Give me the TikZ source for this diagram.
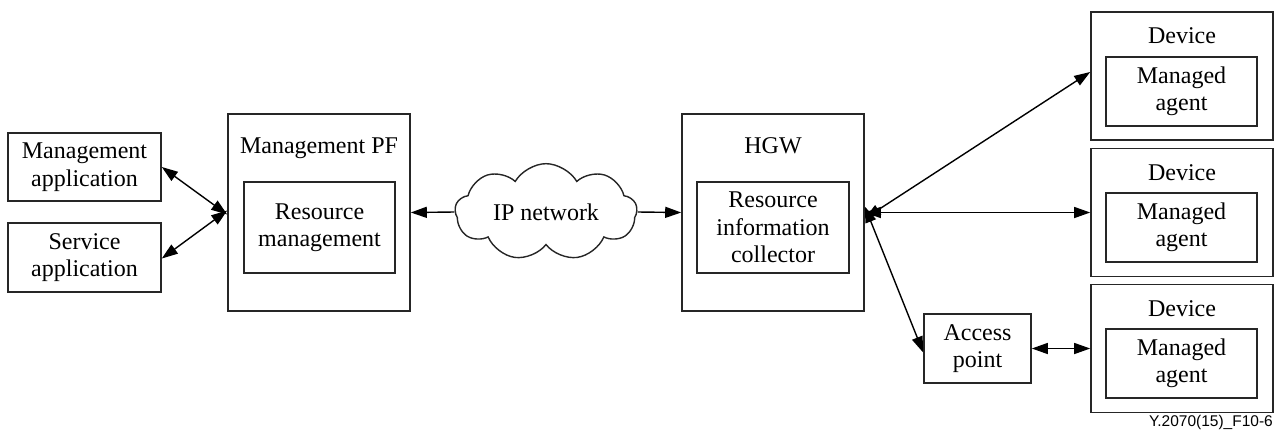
\documentclass[tikz,border=0pt]{standalone}
\usepackage{fontspec}
\setmainfont{Liberation Serif}
\newfontfamily\capfont{Liberation Sans}
\usetikzlibrary{arrows.meta,shapes.symbols}
\tikzset{
  box/.style={draw=black!85, line width=1.6pt, rectangle, inner sep=0pt, align=center,
    font=\fontsize{24}{27.5}\selectfont},
  ttl/.style={inner sep=0pt, font=\fontsize{24}{27.5}\selectfont, anchor=base},
  conn/.style={line width=1.4pt, {Triangle[length=16pt,width=11pt]}-{Triangle[length=16pt,width=11pt]}},
  oneway/.style={line width=1.4pt, -{Triangle[length=16pt,width=11pt]}},
}
\begin{document}
\begin{tikzpicture}[x=1pt,y=-1pt]
\useasboundingbox (0,0) rectangle (1282,432);
% left apps
\node[box, minimum width=153pt, minimum height=68pt] (mapp) at (84.5,167) {Management\\application};
\node[box, minimum width=153pt, minimum height=69pt] (sapp) at (84.5,257.5) {Service\\application};
% Management PF
\node[box, minimum width=182pt, minimum height=197pt] (mpf) at (319,212.5) {};
\node[ttl] (mpft) at (319,153) {Management PF};
\node[box, minimum width=151pt, minimum height=91pt] (rm) at (319.5,227.5) {Resource\\management};
% cloud
\node[cloud, draw=black!85, line width=1.4pt, cloud puffs=9, cloud puff arc=120, aspect=2.1,
  minimum width=182pt, minimum height=90pt, inner sep=0pt, font=\fontsize{24}{27.5}\selectfont] (ip) at (546,212) {IP network};
% HGW
\node[box, minimum width=182pt, minimum height=197pt] (hgw) at (773,212.5) {};
\node[ttl] (hgwt) at (773,153) {HGW};
\node[box, minimum width=152pt, minimum height=91pt] (ric) at (773,227.5) {Resource\\information\\collector};
% devices
\foreach \i/\yc/\yt/\yi in {1/76/43/91.5, 2/212.5/180/227.5, 3/348.5/316/363.5}{
  \node[box, minimum width=182pt, minimum height=128pt] (dev\i) at (1182,\yc) {};
  \node[ttl] (devt\i) at (1182,\yt) {Device};
  \node[box, minimum width=151pt, minimum height=69pt] (ma\i) at (1181.5,\yi) {Managed\\agent};
}
% access point
\node[box, minimum width=107pt, minimum height=69pt] (ap) at (977.5,348.5) {Access\\point};
% caption
\node[anchor=base east, inner sep=0pt, font=\capfont\fontsize{15.5}{18}\selectfont] (cap) at (1273,426) {Y.2070(15)\_F10-6};
% connectors
\coordinate (mpfin1) at ([yshift=-2pt]mpf.west);
\coordinate (mpfin2) at ([yshift=2pt]mpf.west);
\draw[conn] ([yshift=0pt]mapp.east) -- (mpfin1);
\draw[conn] ([yshift=-1pt]sapp.east) -- (mpfin2);
\draw[oneway] (ip.west) -- (mpf.east);
\draw[oneway] (ip.east) -- (hgw.west);
\coordinate (h1) at ([yshift=-6pt]hgw.east);
\coordinate (h3) at ([yshift=6pt]hgw.east);
\draw[conn] (h1) -- ([yshift=4pt]dev1.west);
\draw[conn] (hgw.east) -- (dev2.west);
\draw[conn] (h3) -- ([yshift=-4pt]ap.west);
\draw[conn] (ap.east) -- (dev3.west);
\end{tikzpicture}
\end{document}
